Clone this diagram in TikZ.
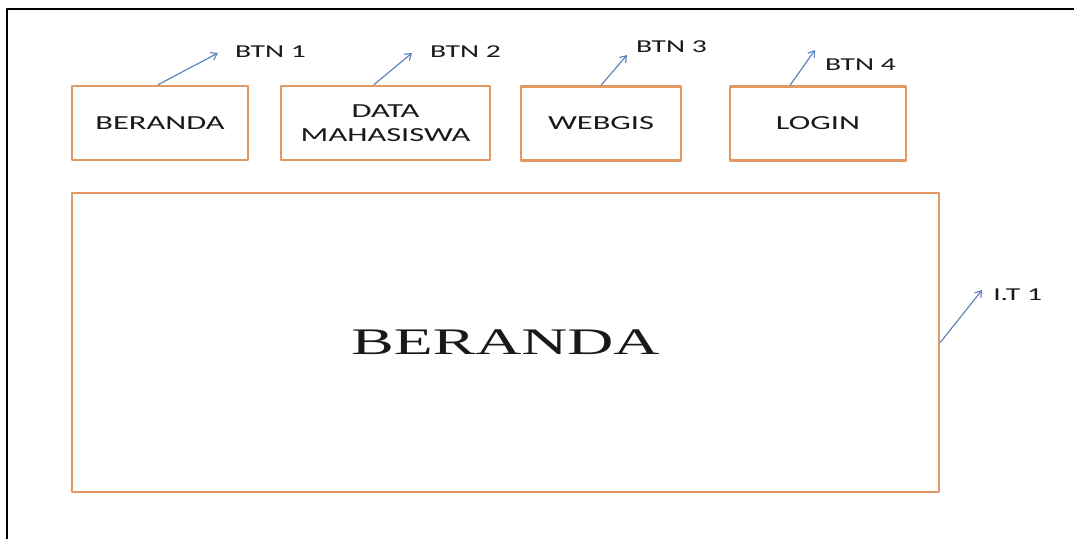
\documentclass[tikz,border=0pt]{standalone}
\usepackage{fontspec}
\usetikzlibrary{arrows.meta}
\newfontfamily\boxfont[FakeStretch=1.63]{Carlito}
\newfontfamily\bigfont[FakeStretch=1.7]{Liberation Serif}
\definecolor{boxorange}{RGB}{226,152,98}
\definecolor{pointblue}{RGB}{96,130,186}
\definecolor{inktext}{RGB}{25,25,25}
\begin{document}
\begin{tikzpicture}[x=0.03cm,y=-0.03cm,line join=round,
  menubox/.style={draw=boxorange,line width=2.1pt,inner sep=0pt,minimum height=2.22cm,
    text=inktext,align=center,font=\boxfont\fontsize{17}{21}\selectfont},
  tag/.style={text=inktext,inner sep=0pt,anchor=west,font=\boxfont\fontsize{15.5}{18}\selectfont},
  pointer/.style={-{Straight Barb[length=5pt,width=7pt]},draw=pointblue,line width=1pt}]
\useasboundingbox (0,0) rectangle (1074,539);
\draw[line width=1.6pt](7,539)--(7,9)--(1074,9);

    \node[menubox,minimum width=5.28cm] (beranda) at (160,123) {BERANDA};
    \node[menubox,minimum width=6.27cm] (data) at (385.5,123) {DATA\\MAHASISWA};
    \node[menubox,minimum width=4.8cm] (webgis) at (601,123.5) {WEBGIS};
    \node[menubox,minimum width=5.28cm] (login) at (818,123.5) {LOGIN};
    \node[menubox,minimum width=26.01cm,minimum height=8.97cm,
      font=\bigfont\fontsize{32}{38}\selectfont] (isi) at (505.5,342.5) {BERANDA};

    \node[tag] (btn1) at (235,52) {BTN 1};
    \node[tag] (btn2) at (430,52) {BTN 2};
    \node[tag] (btn3) at (636,47) {BTN 3};
    \node[tag] (btn4) at (825,65) {BTN 4};
    \node[tag] (it1) at (993,295) {I.T 1};

    \coordinate (p1) at (218,53);
    \coordinate (p2) at (412,53);
    \coordinate (p3) at (627,55);
    \coordinate (p4) at (815,50);
    \coordinate (p5) at (982,290);

\draw[pointer]([xshift=-0.06cm]beranda.north)--(p1);
\draw[pointer]([xshift=-0.35cm]data.north)--(p2);
\draw[pointer](webgis.north)--(p3);
\draw[pointer]([xshift=-0.84cm]login.north)--(p4);
\draw[pointer](isi.east)--(p5);
  \end{tikzpicture}
\end{document}
